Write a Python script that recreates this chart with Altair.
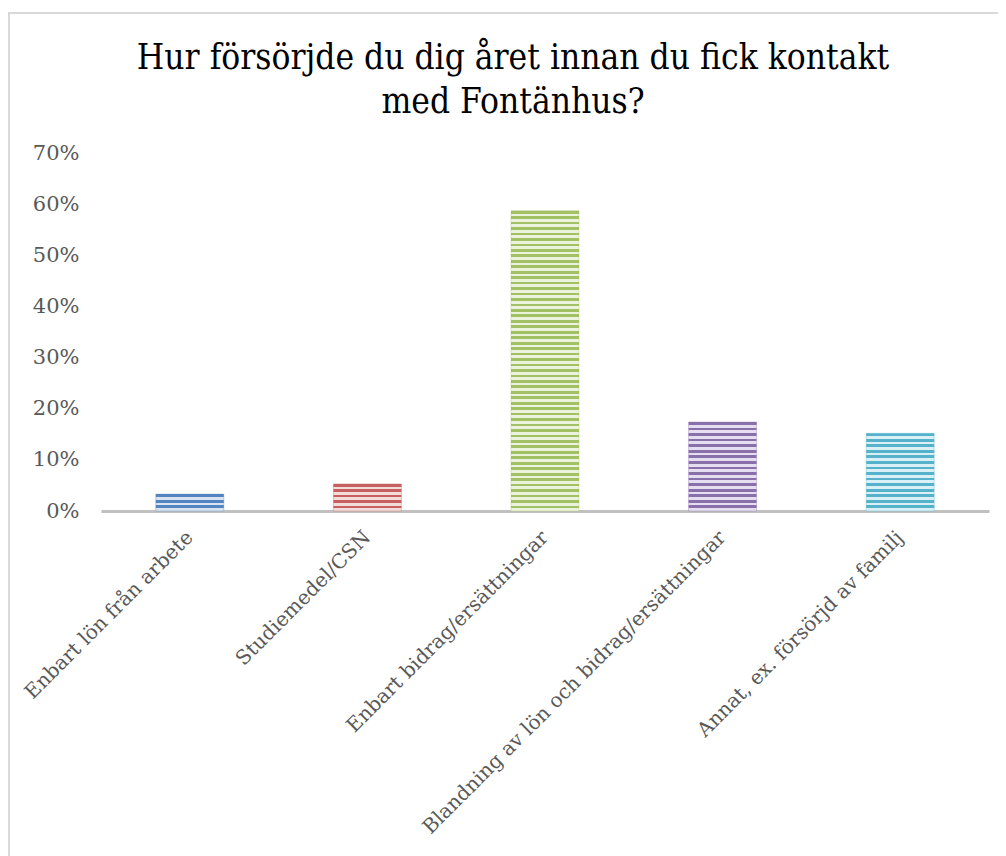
import altair as alt
import pandas as pd

categories = [
    "Enbart lön från arbete",
    "Studiemedel/CSN",
    "Enbart bidrag/ersättningar",
    "Blandning av lön och bidrag/ersättningar",
    "Annat, ex. försörjd av familj",
]
values = [0.033, 0.053, 0.587, 0.174, 0.152]
dark_colors = ["#5585c0", "#c4605d", "#a2c064", "#8a70aa", "#55b2ca"]
light_colors = ["#d8e4f2", "#f4dcdb", "#ecf3dc", "#e5def0", "#d9f0f6"]
title_lines = ["Hur försörjde du dig året innan du fick kontakt", "med Fontänhus?"]

W, H = 888, 358
Y_MAX = 0.7
STRIPE_PERIOD = 5.43

df = pd.DataFrame({"kategori": categories, "andel": values})
title_df = pd.DataFrame({"rad": [0, 1], "text": title_lines})

x_enc = alt.X(
    "kategori:N",
    sort=categories,
    title=None,
    scale=alt.Scale(paddingInner=0.617, paddingOuter=0.3085),
    axis=alt.Axis(
        labelAngle=-45,
        labelAlign="right",
        labelBaseline="middle",
        labelFont="DejaVu Serif",
        labelFontSize=20,
        labelColor="#595959",
        labelPadding=23,
        ticks=False,
        domainColor="#c0c0c0",
        domainWidth=3,
        labelLimit=600,
        grid=False,
    ),
)
y_enc = alt.Y(
    "andel:Q",
    title=None,
    scale=alt.Scale(domain=[0, Y_MAX]),
    axis=alt.Axis(
        values=[0, 0.1, 0.2, 0.3, 0.4, 0.5, 0.6, 0.7],
        format=".0%",
        labelFont="DejaVu Serif",
        labelFontSize=21,
        labelColor="#595959",
        labelPadding=22,
        ticks=False,
        domain=False,
        grid=False,
    ),
)


def stripes(value, dark, light):
    h = value / Y_MAX * H
    n = max(1, round(h / STRIPE_PERIOD))
    stops = []
    for k in range(n):
        a = k / n
        m = (k + 0.5) / n
        b = (k + 1) / n
        stops += [
            alt.GradientStop(offset=a, color=dark),
            alt.GradientStop(offset=m, color=dark),
            alt.GradientStop(offset=m, color=light),
            alt.GradientStop(offset=b, color=light),
        ]
    return alt.LinearGradient(gradient="linear", x1=0, y1=0, x2=0, y2=1, stops=stops)


frame = (
    alt.Chart(df)
    .transform_filter(alt.datum.kategori == categories[0])
    .mark_rect(fill=None, stroke="#d9d9d9", strokeWidth=2)
    .encode(x=alt.value(-92), x2=alt.value(1200), y=alt.value(-140), y2=alt.value(1000))
)

title1 = (
    alt.Chart(title_df)
    .transform_filter(alt.datum.rad == 0)
    .mark_text(font="DejaVu Serif Condensed", fontSize=35, color="#000000",
               align="center", baseline="alphabetic")
    .encode(text="text:N", x=alt.value(412), y=alt.value(-84))
)
title2 = (
    alt.Chart(title_df)
    .transform_filter(alt.datum.rad == 1)
    .mark_text(font="DejaVu Serif Condensed", fontSize=35, color="#000000",
               align="center", baseline="alphabetic")
    .encode(text="text:N", x=alt.value(412), y=alt.value(-40))
)

layers = [frame, title1, title2]
for cat, val, d, l in zip(categories, values, dark_colors, light_colors):
    layers.append(
        alt.Chart(df)
        .transform_filter(alt.datum.kategori == cat)
        .mark_bar(fill=stripes(val, d, l), stroke=d, strokeWidth=0.6, strokeOpacity=0.6)
        .encode(x=x_enc, y=y_enc)
    )

chart = (
    alt.layer(*layers)
    .properties(
        width=W,
        height=H,
        autosize=alt.AutoSizeParams(type="none"),
        padding={"left": 93, "top": 145, "right": 9, "bottom": 345},
    )
    .configure_view(stroke=None)
)

chart.save("out.html", embed_options={"renderer": "svg", "actions": False})
